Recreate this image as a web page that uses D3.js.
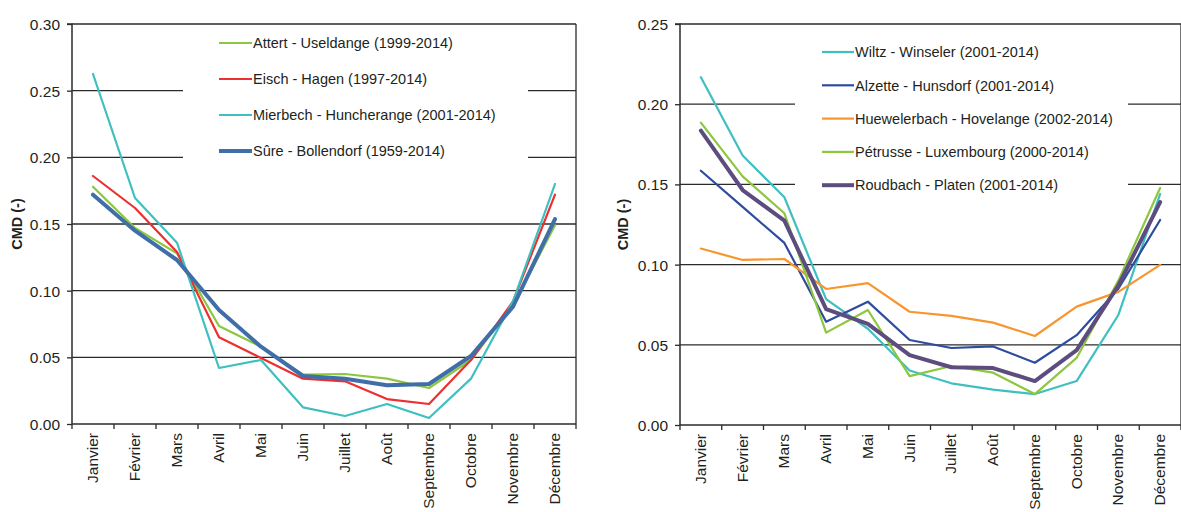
<!DOCTYPE html>
<html><head><meta charset="utf-8">
<script src="https://cdn.jsdelivr.net/npm/d3@7"></script>
<style>
html,body{margin:0;padding:0;background:#fff;}
svg{display:block;font-family:"Liberation Sans",Arial,sans-serif;}
</style></head>
<body><svg id="c" width="1181" height="512"></svg>
<script>
const months = ["Janvier","Février","Mars","Avril","Mai","Juin","Juillet","Août","Septembre","Octobre","Novembre","Décembre"];

// Left chart
const leftTicks = [0.00,0.05,0.10,0.15,0.20,0.25,0.30];
const leftNames = ["Attert - Useldange (1999-2014)","Eisch - Hagen (1997-2014)","Mierbech - Huncherange (2001-2014)","Sûre - Bollendorf (1959-2014)"];
const attert   = [0.178,0.147,0.128,0.0735,0.058,0.037,0.0375,0.034,0.027,0.048,0.089,0.149];
const eisch    = [0.186,0.162,0.129,0.065,0.0495,0.034,0.032,0.0187,0.015,0.048,0.092,0.172];
const mierbech = [0.2625,0.1695,0.136,0.042,0.048,0.0125,0.006,0.015,0.0045,0.034,0.092,0.180];
const sure     = [0.172,0.145,0.123,0.0855,0.058,0.036,0.034,0.029,0.030,0.051,0.088,0.1537];

// Right chart
const rightTicks = [0.00,0.05,0.10,0.15,0.20,0.25];
const rightNames = ["Wiltz - Winseler (2001-2014)","Alzette - Hunsdorf (2001-2014)","Huewelerbach - Hovelange (2002-2014)","Pétrusse - Luxembourg (2000-2014)","Roudbach - Platen (2001-2014)"];
const wiltz    = [0.2168,0.168,0.142,0.0785,0.060,0.034,0.026,0.022,0.0193,0.0274,0.0686,0.144];
const alzette  = [0.1585,0.136,0.1135,0.0644,0.0769,0.053,0.048,0.049,0.0388,0.056,0.085,0.1278];
const huewel   = [0.110,0.1029,0.1035,0.0848,0.0885,0.0706,0.068,0.0638,0.0555,0.0738,0.083,0.0998];
const petrusse = [0.1885,0.155,0.132,0.0576,0.0717,0.0305,0.0368,0.0326,0.0193,0.0418,0.090,0.1478];
const roudbach = [0.1835,0.1465,0.1274,0.0722,0.063,0.0436,0.036,0.0355,0.0274,0.0467,0.087,0.139];

const svg = d3.select("#c");
const textCol = "#231f20";
const gridCol = "#2b2b2b";

function drawChart(cfg){
  const g = svg.append("g");
  const x = d3.scaleBand().domain(months).range([cfg.x0, cfg.x1]).paddingInner(0).paddingOuter(0);
  const y = d3.scaleLinear().domain([0, cfg.ymax]).range([cfg.y0, cfg.y1]);

  // gridlines
  g.selectAll("line.grid").data(cfg.ticks.filter(t=>t>0)).enter().append("line")
    .attr("x1", cfg.x0).attr("x2", cfg.x1)
    .attr("y1", d=>y(d)).attr("y2", d=>y(d))
    .attr("stroke", gridCol).attr("stroke-width", 1.3);
  // right border
  g.append("line").attr("x1", cfg.x1).attr("x2", cfg.x1).attr("y1", y(cfg.ymax)).attr("y2", cfg.y0)
    .attr("stroke", gridCol).attr("stroke-width", 1.3);

  // legend background box (covers gridlines)
  g.append("rect").attr("x", cfg.lg.bx0).attr("y", cfg.lg.by0)
    .attr("width", cfg.lg.bx1 - cfg.lg.bx0).attr("height", cfg.lg.by1 - cfg.lg.by0)
    .attr("fill", "#fff");

  // y axis
  const ya = d3.axisLeft(y).tickValues(cfg.ticks).tickFormat(d3.format(".2f")).tickSize(5).tickPadding(7);
  const yg = g.append("g").attr("transform", `translate(${cfg.x0},0)`).call(ya);
  yg.select(".domain").attr("stroke", gridCol).attr("stroke-width", 1.5).attr("d", `M-5,${y(cfg.ymax)}H0V${cfg.y0}`);
  yg.selectAll(".tick line").attr("stroke", gridCol).attr("stroke-width", 1.3);
  yg.selectAll(".tick text").attr("fill", textCol).style("font-size", "15.5px").attr("dy", "0.36em");

  // x axis baseline and boundary ticks
  g.append("line").attr("x1", cfg.x0).attr("x2", cfg.x1).attr("y1", cfg.y0).attr("y2", cfg.y0)
    .attr("stroke", gridCol).attr("stroke-width", 1.5);
  const bounds = months.map(m=>x(m)).concat([cfg.x1]);
  g.selectAll("line.xt").data(bounds).enter().append("line")
    .attr("x1", d=>d).attr("x2", d=>d).attr("y1", cfg.y0).attr("y2", cfg.y0+5)
    .attr("stroke", gridCol).attr("stroke-width", 1.3);
  g.selectAll("text.xl").data(months).enter().append("text")
    .attr("transform", d=>`translate(${x(d)+x.bandwidth()/2+5},${cfg.y0+9}) rotate(-90)`)
    .attr("text-anchor", "end").attr("fill", textCol).style("font-size", "15.5px")
    .text(d=>d);

  // y title
  g.append("text").attr("transform", `translate(${cfg.titleX},${(cfg.y0+y(cfg.ymax))/2}) rotate(-90)`)
    .attr("text-anchor", "middle").attr("fill", textCol)
    .style("font-size", "14.5px").style("font-weight", "bold").text("CMD (-)");

  // series
  const line = d3.line().x((d,i)=>x(months[i])+x.bandwidth()/2).y(d=>y(d));
  cfg.series.forEach(s=>{
    g.append("path").datum(s.values).attr("d", line)
      .attr("fill", "none").attr("stroke", s.color).attr("stroke-width", s.w)
      .attr("stroke-linejoin", "round").attr("stroke-linecap", "round");
  });

  // legend
  cfg.series.forEach((s,i)=>{
    const ly = cfg.lg.y + i*cfg.lg.dy;
    g.append("line").attr("x1", cfg.lg.x).attr("x2", cfg.lg.x+cfg.lg.len)
      .attr("y1", ly).attr("y2", ly).attr("stroke", s.color).attr("stroke-width", s.w);
    g.append("text").attr("x", cfg.lg.x+cfg.lg.len+1).attr("y", ly).attr("dy", "0.36em")
      .attr("fill", textCol).style("font-size", "14.5px").text(s.name);
  });
}

drawChart({
  x0: 72, x1: 576, y0: 424, y1: 24, ymax: 0.30, ticks: leftTicks, titleX: 22,
  lg: {x: 219, len: 33, y: 43, dy: 36, bx0: 183, bx1: 528, by0: 28, by1: 188},
  series: [
    {name: leftNames[0], values: attert,   color: "#8dc63f", w: 2.2},
    {name: leftNames[1], values: eisch,    color: "#ec2f2f", w: 2.2},
    {name: leftNames[2], values: mierbech, color: "#3fbfc0", w: 2.2},
    {name: leftNames[3], values: sure,     color: "#3f6ea8", w: 4}
  ]
});

drawChart({
  x0: 680, x1: 1181, y0: 425, y1: 24, ymax: 0.25, ticks: rightTicks, titleX: 628,
  lg: {x: 822, len: 32, y: 52, dy: 33.3, bx0: 795, bx1: 1128, by0: 30, by1: 200},
  series: [
    {name: rightNames[0], values: wiltz,    color: "#3fbfc0", w: 2.2},
    {name: rightNames[1], values: alzette,  color: "#2e4c9e", w: 2.2},
    {name: rightNames[2], values: huewel,   color: "#f7962f", w: 2.2},
    {name: rightNames[3], values: petrusse, color: "#8dc63f", w: 2.2},
    {name: rightNames[4], values: roudbach, color: "#5d4d7f", w: 4}
  ]
});
</script></body></html>
